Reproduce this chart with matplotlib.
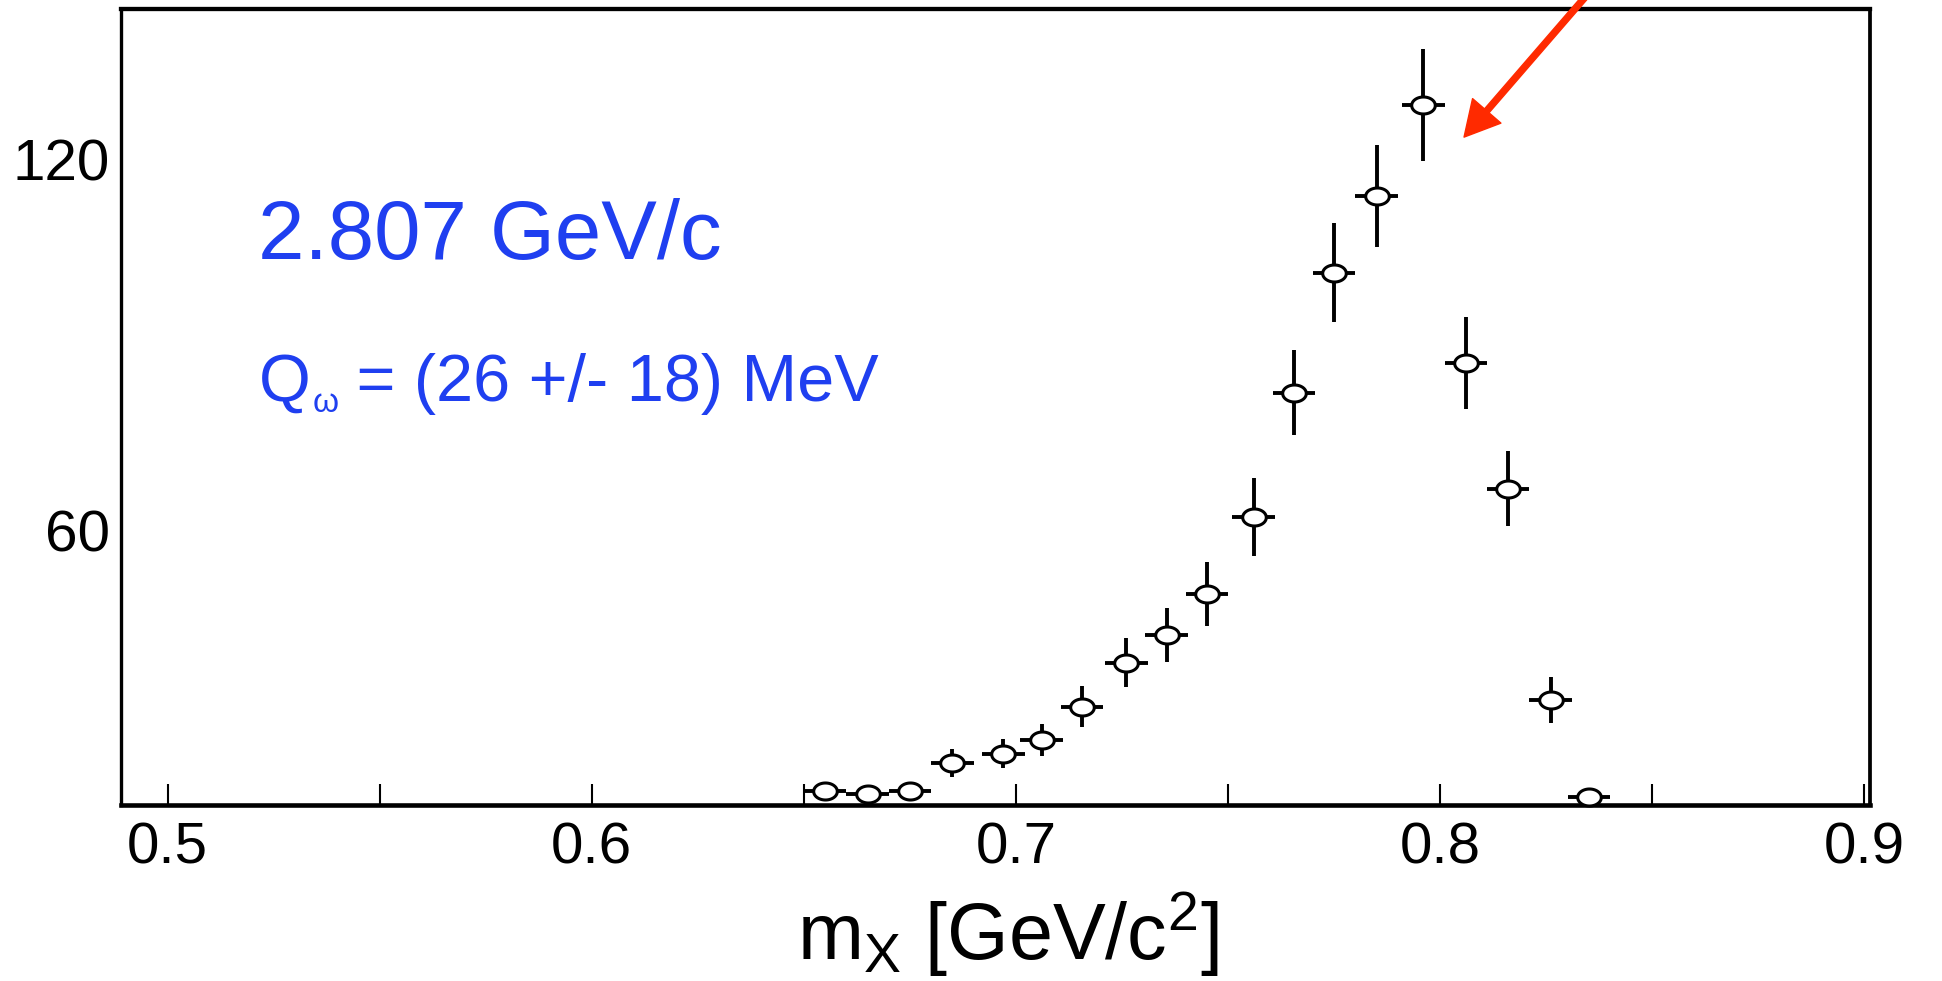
import matplotlib
matplotlib.use("Agg")
import matplotlib.pyplot as plt
import numpy as np
from matplotlib.path import Path
from matplotlib.ticker import FixedLocator

plt.rcParams['font.family'] = ['Liberation Sans', 'DejaVu Sans']
plt.rcParams['mathtext.fontset'] = 'custom'
plt.rcParams['mathtext.rm'] = 'Liberation Sans'
plt.rcParams['mathtext.it'] = 'Liberation Sans:italic'

# data
mass = [0.655, 0.665, 0.675, 0.685, 0.697, 0.706, 0.7155, 0.726, 0.7355, 0.745,
        0.756, 0.7655, 0.775, 0.785, 0.796, 0.806, 0.816, 0.826, 0.835]
counts = [18.0, 17.4, 18.0, 22.5, 24.0, 26.2, 31.6, 38.7, 43.2, 49.8,
          62.3, 82.3, 101.7, 114.1, 128.8, 87.1, 66.8, 32.7, 17.0]
errors = [1.3, 1.3, 1.4, 2.3, 2.4, 2.6, 3.3, 4.0, 4.4, 5.2,
          6.3, 6.9, 8.0, 8.3, 9.1, 7.4, 6.1, 3.7, 1.0]
bin_half = 0.005

x_major = [0.5, 0.6, 0.7, 0.8, 0.9]
x_minor = [0.55, 0.65, 0.75, 0.85]
y_ticks = [60, 120]

beam_label = "2.807 GeV/c"
q_parts = ["Q", "ω", " = (26 +/- 18) MeV"]
x_label = r"m$_{\mathrm{X}}$ [GeV/c$^{2}$]"

blue = '#1f3ff0'
red = '#ff2a00'

fig = plt.figure(figsize=(19.42, 9.81), dpi=100)
ax = fig.add_axes([121 / 1942, 176 / 981, 1749 / 1942, 796 / 981])

# open elliptical marker
t = np.linspace(0, 2 * np.pi, 80)
ellipse = Path(np.column_stack([np.cos(t), 0.72 * np.sin(t)]))

ax.errorbar(mass, counts, yerr=errors, xerr=bin_half, fmt='none',
            ecolor='black', elinewidth=2.8, capsize=0, zorder=3, clip_on=False)
ax.plot(mass, counts, linestyle='none', marker=ellipse, markersize=17,
        markerfacecolor='white', markeredgecolor='black', markeredgewidth=2.2,
        zorder=4, clip_on=False)

ax.set_xlim(0.489, 0.9013)
ax.set_ylim(15.7, 144.3)

ax.xaxis.set_major_locator(FixedLocator(x_major))
ax.xaxis.set_minor_locator(FixedLocator(x_minor))
ax.set_xticklabels([f"{v:.1f}" for v in x_major])
ax.set_yticks(y_ticks)
ax.set_yticklabels([str(v) for v in y_ticks])

ax.tick_params(axis='x', which='both', direction='in', length=15, width=1.5,
               top=False, labelsize=42, pad=12)
ax.tick_params(axis='y', which='both', length=0, labelsize=42, pad=8)

for side, lw in [('bottom', 3.3), ('top', 3.1), ('left', 2.4), ('right', 2.7)]:
    ax.spines[side].set_linewidth(lw)

ax.set_xlabel(x_label, fontsize=57)
ax.xaxis.label.set_va('baseline')
ax.xaxis.set_label_coords(0.507, -0.1947)

ax.text(0.0783, 0.686, beam_label, transform=ax.transAxes, color=blue,
        fontsize=60, va='baseline', ha='left')

# Q label built from pieces so the omega subscript stays small and low
q_main = ax.text(0.0789, 0.5075, q_parts[0], transform=ax.transAxes,
                 color=blue, fontsize=48, va='baseline', ha='left')
q_sub = ax.annotate(q_parts[1], xy=(1, 0), xycoords=q_main,
                    xytext=(1, -3), textcoords='offset points',
                    color=blue, fontsize=24, va='bottom', ha='left')
ax.annotate(q_parts[2], xy=(1, 0), xycoords=(q_sub, q_main),
            color=blue, fontsize=48, va='bottom', ha='left')

# red arrow coming in from above the frame
ax.annotate('', xy=(0.8056, 123.6), xytext=(0.8398, 150.7),
            arrowprops=dict(color=red, width=4.3, headwidth=27, headlength=25),
            annotation_clip=False)

fig.savefig('out.png', dpi=100)
